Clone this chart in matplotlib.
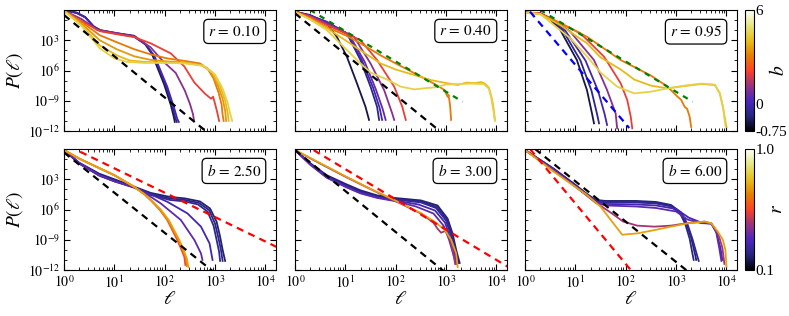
import numpy as np
import matplotlib
matplotlib.use('Agg')
import matplotlib.pyplot as plt
from matplotlib import colors, ticker

plt.rcParams['font.family'] = ['Liberation Serif', 'DejaVu Serif']
plt.rcParams['mathtext.fontset'] = 'stix'
plt.rcParams['axes.linewidth'] = 0.8

# ---------------- data (log10 ell, log10 P) ----------------
# Top row: r fixed, colour = b
top_r = [0.10, 0.40, 0.95]

p1_b = [-0.5, -0.25, 0.0, 1.0, 2.0, 3.0, 3.5, 4.0, 4.5]
p1_x = [
    [0, 0.25, 0.42, 0.58, 0.72, 1.05, 1.39, 1.6, 1.75, 1.99, 2.12, 2.18, 2.2],
    [0, 0.25, 0.42, 0.6, 0.74, 1.05, 1.39, 1.62, 1.78, 2.02, 2.15, 2.21, 2.24],
    [0, 0.25, 0.43, 0.62, 0.76, 1.05, 1.39, 1.64, 1.8, 2.05, 2.18, 2.25, 2.28],
    [0, 0.35, 0.65, 1.0, 1.39, 1.72, 1.95, 2.22, 2.4, 2.5, 2.56, 2.58],
    [0, 0.35, 0.71, 1.05, 1.4, 1.72, 2.12, 2.39, 2.59, 2.8, 2.92, 2.96, 3.0, 3.05, 3.08],
    [0, 0.35, 0.71, 1.05, 1.4, 1.72, 2.05, 2.4, 2.7, 2.85, 2.97, 3.07, 3.13, 3.15, 3.17],
    [0, 0.35, 0.71, 1.05, 1.4, 1.72, 2.05, 2.4, 2.72, 2.9, 3.05, 3.15, 3.2, 3.22],
    [0, 0.35, 0.71, 1.05, 1.3, 1.6, 2.05, 2.4, 2.75, 2.95, 3.1, 3.2, 3.25, 3.27],
    [0, 0.35, 0.71, 1.0, 1.25, 1.6, 2.05, 2.4, 2.78, 3.0, 3.15, 3.25, 3.3, 3.34],
]
p1_y = [
    [-0.02, -0.26, -0.7, -1.6, -2.0, -2.3, -2.55, -3.3, -4.4, -7.4, -9.4, -10.6, -11.1],
    [-0.02, -0.28, -0.72, -1.7, -2.05, -2.33, -2.6, -3.4, -4.5, -7.5, -9.5, -10.7, -11.1],
    [-0.03, -0.3, -0.75, -1.8, -2.1, -2.36, -2.65, -3.5, -4.6, -7.6, -9.6, -10.8, -11.1],
    [-0.06, -0.9, -1.95, -2.25, -2.6, -3.7, -5.0, -6.25, -8.0, -9.3, -10.3, -10.9],
    [-0.08, -1.1, -2.1, -2.4, -2.7, -3.3, -4.3, -5.6, -7.2, -8.3, -8.8, -8.6, -9.3, -10.3, -11.0],
    [-0.08, -1.2, -2.5, -3.2, -3.9, -4.4, -4.8, -5.05, -5.3, -5.8, -6.8, -8.2, -9.4, -10.4, -11.0],
    [-0.08, -1.35, -3.0, -3.9, -4.6, -4.95, -5.1, -5.2, -5.45, -6.0, -7.4, -8.8, -10.0, -11.0],
    [-0.08, -1.5, -3.5, -4.5, -5.0, -5.15, -5.2, -5.25, -5.5, -6.2, -7.6, -9.0, -10.2, -11.0],
    [-0.08, -1.6, -3.8, -4.8, -5.15, -5.25, -5.25, -5.3, -5.55, -6.4, -7.8, -9.2, -10.3, -11.0],
]

p2_b = [-0.5, -0.25, 0.0, 0.5, 1.0, 2.0, 3.0, 4.0, 4.5]
p2_x = [
    [0, 0.3, 0.63, 0.83, 1.03, 1.23, 1.4, 1.47],
    [0, 0.3, 0.63, 1.03, 1.3, 1.5, 1.63, 1.67],
    [0, 0.3, 0.63, 1.05, 1.33, 1.55, 1.68, 1.73],
    [0, 0.3, 0.63, 1.08, 1.38, 1.6, 1.74, 1.8],
    [0, 0.3, 0.63, 1.17, 1.5, 1.77, 1.93, 1.97],
    [0, 0.3, 0.63, 1.3, 1.63, 1.97, 2.13, 2.2],
    [0, 0.3, 0.63, 1.0, 1.3, 1.7, 2.0, 2.5, 2.83, 2.97, 3.03, 3.05, 3.08, 3.1],
    [0, 0.3, 0.63, 1.0, 1.3, 1.7, 2.0, 2.37, 2.7, 3.03, 3.23, 3.4, 3.57, 3.7, 3.77, 3.85, 3.9, 3.93, 3.95, 3.97],
    [0, 0.3, 0.63, 1.03, 1.3, 1.5, 1.83, 2.1, 2.37, 2.6, 2.77, 3.0, 3.2, 3.5, 3.75, 3.85, 3.9, 3.95, 3.97],
]
p2_y = [
    [-0.17, -0.5, -1.32, -2.65, -4.63, -7.27, -9.6, -10.9],
    [-0.17, -0.55, -1.16, -2.31, -4.96, -7.6, -9.6, -10.9],
    [-0.17, -0.57, -1.2, -2.4, -5.0, -7.7, -9.7, -10.9],
    [-0.17, -0.6, -1.25, -2.5, -5.1, -7.8, -9.8, -10.9],
    [-0.17, -0.62, -1.32, -2.65, -5.3, -7.94, -10.25, -10.9],
    [-0.17, -0.65, -1.49, -2.98, -4.96, -7.6, -9.59, -10.9],
    [-0.17, -0.8, -1.7, -2.5, -3.3, -4.5, -5.3, -6.6, -7.5, -7.95, -8.6, -8.4, -9.5, -10.9],
    [-0.17, -0.9, -1.8, -3.0, -4.0, -5.3, -5.9, -6.45, -6.95, -7.27, -7.44, -7.2, -7.25, -7.15, -7.3, -7.7, -8.6, -9.3, -10.0, -10.9],
    [-0.17, -0.95, -1.98, -3.97, -5.3, -6.2, -6.9, -7.6, -7.87, -7.75, -7.67, -7.4, -7.35, -7.3, -7.35, -7.8, -8.8, -10.3, -11.0],
]

p3_b = [-0.5, -0.25, 0.0, 1.0, 2.0, 3.0, 4.0, 4.5]
p3_x = [
    [0, 0.3, 0.5, 0.7, 1.03, 1.23, 1.33, 1.37],
    [0, 0.3, 0.52, 0.75, 1.1, 1.32, 1.43, 1.47],
    [0, 0.3, 0.55, 0.8, 1.2, 1.45, 1.58, 1.63],
    [0, 0.3, 0.6, 0.9, 1.37, 1.63, 1.8, 1.83],
    [0, 0.3, 0.7, 1.1, 1.57, 1.9, 2.03, 2.1, 2.13],
    [0, 0.3, 0.7, 1.23, 1.9, 2.5, 2.83, 3.03, 3.1, 3.17, 3.22, 3.27, 3.3],
    [0, 0.3, 0.7, 1.23, 1.5, 1.9, 2.17, 2.5, 2.83, 3.17, 3.5, 3.77, 3.87, 3.93, 4.0],
    [0, 0.3, 0.6, 0.9, 1.23, 1.5, 1.83, 2.17, 2.5, 2.83, 3.17, 3.5, 3.77, 3.87, 3.93, 3.98],
]
p3_y = [
    [-0.26, -0.33, -0.9, -1.98, -4.96, -7.94, -10.25, -11.24],
    [-0.26, -0.33, -0.9, -2.0, -5.0, -8.0, -10.3, -11.24],
    [-0.26, -0.33, -0.92, -2.05, -5.0, -8.0, -10.3, -11.4],
    [-0.26, -0.33, -1.1, -2.15, -4.96, -7.94, -10.25, -11.74],
    [-0.26, -0.33, -1.3, -2.31, -4.63, -7.27, -8.93, -10.58, -11.74],
    [-0.26, -0.38, -1.3, -2.65, -4.96, -6.5, -7.6, -8.6, -8.9, -9.6, -9.8, -10.6, -11.6],
    [-0.26, -0.4, -1.5, -3.3, -4.7, -5.9, -6.9, -7.5, -7.77, -7.54, -7.34, -7.44, -8.27, -9.6, -11.6],
    [-0.26, -0.4, -1.6, -2.8, -4.6, -6.2, -7.6, -8.27, -8.1, -7.77, -7.5, -7.3, -7.4, -8.3, -9.6, -11.5],
]

# Bottom row: b fixed, colour = r
bot_b = [2.50, 3.00, 6.00]

p4_r = [0.2, 0.22, 0.25, 0.3, 0.35, 0.55, 0.65, 0.72]
p4_x = [
    [0, 0.3, 0.7, 1.0, 1.4, 1.72, 2.1, 2.4, 2.7, 2.9, 3.03, 3.1, 3.15, 3.2],
    [0, 0.3, 0.7, 1.0, 1.4, 1.72, 2.1, 2.4, 2.68, 2.88, 3.0, 3.07, 3.12, 3.15],
    [0, 0.3, 0.7, 1.0, 1.4, 1.72, 2.1, 2.4, 2.66, 2.85, 2.97, 3.03, 3.08, 3.1],
    [0, 0.3, 0.7, 1.0, 1.39, 1.72, 2.05, 2.45, 2.72, 2.89, 2.95],
    [0, 0.3, 0.7, 1.0, 1.39, 1.65, 1.92, 2.32, 2.59, 2.72, 2.75],
    [0, 0.3, 0.71, 1.0, 1.39, 1.6, 1.72, 1.9, 2.05, 2.25, 2.35, 2.39, 2.41],
    [0, 0.3, 0.71, 1.0, 1.39, 1.6, 1.72, 1.9, 2.06, 2.27, 2.37, 2.42, 2.44],
    [0, 0.3, 0.71, 1.0, 1.39, 1.6, 1.73, 1.92, 2.08, 2.29, 2.39, 2.44, 2.47],
]
p4_y = [
    [-0.1, -1.35, -2.45, -3.0, -3.75, -4.35, -4.75, -4.9, -5.2, -5.9, -7.2, -8.7, -10.0, -11.1],
    [-0.1, -1.4, -2.55, -3.1, -3.8, -4.45, -4.9, -5.05, -5.35, -6.05, -7.4, -8.9, -10.1, -11.1],
    [-0.1, -1.45, -2.65, -3.2, -3.85, -4.55, -5.05, -5.2, -5.5, -6.2, -7.6, -9.0, -10.2, -11.1],
    [-0.1, -1.4, -2.6, -3.2, -3.78, -4.5, -5.23, -6.38, -7.7, -9.36, -11.0],
    [-0.1, -1.4, -2.6, -3.2, -3.78, -4.5, -5.39, -7.04, -9.03, -10.35, -11.0],
    [-0.1, -0.95, -1.92, -2.6, -3.74, -4.5, -5.06, -6.0, -7.04, -9.03, -10.2, -10.7, -11.5],
    [-0.1, -0.95, -1.92, -2.6, -3.74, -4.5, -5.06, -6.0, -7.04, -9.03, -10.2, -10.8, -11.6],
    [-0.1, -0.95, -1.92, -2.6, -3.74, -4.5, -5.06, -6.0, -7.04, -9.03, -10.2, -10.9, -11.7],
]

p5_r = [0.2, 0.22, 0.25, 0.3, 0.35, 0.45, 0.72]
p5_x = [
    [0, 0.3, 0.63, 1.02, 1.3, 1.63, 1.97, 2.5, 2.83, 3.03, 3.13, 3.2, 3.27],
    [0, 0.3, 0.63, 1.02, 1.3, 1.63, 1.97, 2.5, 2.82, 3.02, 3.12, 3.19, 3.25],
    [0, 0.3, 0.63, 1.02, 1.3, 1.63, 1.97, 2.5, 2.8, 3.0, 3.1, 3.18, 3.24],
    [0, 0.3, 0.63, 1.02, 1.3, 1.63, 1.97, 2.45, 2.78, 2.98, 3.08, 3.16, 3.22],
    [0, 0.3, 0.63, 1.02, 1.3, 1.63, 1.97, 2.4, 2.75, 2.95, 3.06, 3.14, 3.2],
    [0, 0.5, 1.02, 1.5, 2.03, 2.5, 2.75, 2.83, 2.9, 3.0, 3.1, 3.15, 3.18],
    [0, 0.5, 1.02, 1.5, 2.03, 2.5, 2.77, 2.97, 3.1, 3.2, 3.23],
]
p5_y = [
    [-0.1, -1.4, -2.6, -3.5, -4.1, -4.6, -4.85, -5.1, -5.6, -6.9, -8.4, -10.0, -11.3],
    [-0.1, -1.45, -2.7, -3.6, -4.2, -4.7, -4.95, -5.2, -5.75, -7.0, -8.5, -10.1, -11.3],
    [-0.1, -1.5, -2.75, -3.7, -4.3, -4.75, -5.0, -5.3, -5.85, -7.1, -8.6, -10.2, -11.3],
    [-0.1, -1.5, -2.8, -3.75, -4.35, -4.8, -5.1, -5.5, -6.1, -7.3, -8.8, -10.3, -11.4],
    [-0.1, -1.55, -2.85, -3.8, -4.4, -4.85, -5.15, -5.7, -6.4, -7.6, -9.0, -10.4, -11.4],
    [-0.1, -1.45, -2.8, -3.98, -5.25, -6.4, -7.3, -7.9, -8.3, -8.1, -9.3, -10.5, -11.4],
    [-0.1, -1.4, -2.75, -3.95, -5.2, -6.35, -7.2, -8.0, -9.0, -10.35, -11.7],
]

p6_r = [0.2, 0.22, 0.25, 0.3, 0.35, 0.45, 0.72]
p6_x = [
    [0, 0.57, 1.0, 1.2, 1.4, 1.6, 2.2, 2.6, 2.9, 3.1, 3.2, 3.3, 3.38, 3.4],
    [0, 0.57, 1.0, 1.2, 1.4, 1.6, 2.2, 2.6, 2.88, 3.08, 3.18, 3.27, 3.33, 3.35],
    [0, 0.57, 1.0, 1.2, 1.4, 1.6, 2.2, 2.6, 2.92, 3.12, 3.23, 3.33, 3.42, 3.45],
    [0, 0.57, 1.0, 1.2, 1.4, 1.6, 2.2, 2.6, 3.0, 3.25, 3.5, 3.7, 3.8, 3.88, 3.92],
    [0, 0.57, 1.0, 1.2, 1.4, 1.6, 2.2, 2.6, 3.0, 3.23, 3.5, 3.7, 3.8, 3.86, 3.9],
    [0, 0.57, 1.0, 1.2, 1.4, 1.7, 1.95, 2.23, 2.57, 2.9, 3.23, 3.57, 3.7, 3.83, 3.92, 3.96],
    [0, 0.57, 1.23, 1.5, 1.93, 2.23, 2.57, 2.9, 3.23, 3.57, 3.7, 3.83, 3.93, 3.98, 4.0],
]
p6_y = [
    [-0.1, -1.95, -3.55, -4.35, -5.05, -5.15, -5.15, -5.25, -5.55, -6.3, -7.3, -8.8, -10.5, -11.0],
    [-0.1, -2.0, -3.6, -4.4, -5.1, -5.25, -5.25, -5.35, -5.65, -6.4, -7.4, -8.9, -10.5, -11.0],
    [-0.1, -2.0, -3.6, -4.4, -5.12, -5.3, -5.3, -5.4, -5.7, -6.5, -7.5, -9.0, -10.6, -11.1],
    [-0.1, -2.05, -3.65, -4.45, -5.2, -5.45, -5.5, -5.6, -5.95, -6.8, -7.3, -7.4, -8.2, -9.8, -11.0],
    [-0.1, -2.1, -3.7, -4.5, -5.3, -5.6, -5.7, -5.85, -6.2, -7.0, -7.35, -7.4, -8.3, -9.9, -11.1],
    [-0.1, -2.15, -3.75, -4.5, -5.3, -6.3, -7.2, -7.6, -7.7, -7.6, -7.35, -7.2, -7.4, -8.3, -9.8, -11.4],
    [-0.1, -2.25, -4.56, -5.72, -8.5, -8.37, -8.04, -7.7, -7.37, -7.2, -7.37, -8.2, -9.03, -10.0, -11.67],
]

# reference power-law guides: [x0, x1], [y0, y1] in log10 units
blk_x = [[0, 2.85], [0, 2.85], None, [0, 2.95], [0, 2.95], [0.2, 3.25]]
blk_y = [[-0.5, -12.15], [-0.33, -11.9], None, [-0.35, -12.1], [-0.1, -12.1], [0.0, -12.2]]
grn_x = [None, [0.3, 3.33], [0.3, 3.33]]
grn_y = [None, [0.0, -9.1], [0.0, -9.1]]
blu_x = [0.1, 2.07]
blu_y = [-0.17, -11.7]
red_x = [[0.32, 4.3], [0.37, 4.3], [0.1, 2.1]]
red_y = [[-0.27, -9.9], [-0.11, -11.9], [0.0, -12.0]]

b_ticks = [-0.75, 0, 6]
b_ticklabels = ['-0.75', '0', '6']
r_ticks = [0.1, 1.0]
r_ticklabels = ['0.1', '1.0']
ytick_vals = [1e-3, 1e-6, 1e-9, 1e-12]
ytick_labels = [r'$10^{3}$', r'$10^{6}$', r'$10^{-9}$', r'$10^{-12}$']
xtick_vals = [1, 10, 100, 1000, 10000]
xtick_labels = [r'$10^{0}$', r'$10^{1}$', r'$10^{2}$', r'$10^{3}$', r'$10^{4}$']

# ---------------- figure ----------------
cmap = plt.get_cmap('CMRmap')
bnorm = colors.FuncNorm((lambda v: np.interp(v, [-0.75, 0, 6], [0, 0.22, 1]),
                         lambda u: np.interp(u, [0, 0.22, 1], [-0.75, 0, 6])),
                        vmin=-0.75, vmax=6)
rnorm = colors.Normalize(0.1, 1.0)

W, H = 789, 316
fig = plt.figure(figsize=(W / 100, H / 100), dpi=100)
lefts = [64, 295, 525]
tops = [10, 149]
aw, ah = 212, 121
axes = []
for row in range(2):
    for col in range(3):
        ax = fig.add_axes([lefts[col] / W, 1 - (tops[row] + ah) / H, aw / W, ah / H])
        axes.append(ax)

top_data = [(p1_b, p1_x, p1_y), (p2_b, p2_x, p2_y), (p3_b, p3_x, p3_y)]
bot_data = [(p4_r, p4_x, p4_y), (p5_r, p5_x, p5_y), (p6_r, p6_x, p6_y)]
dash = (0, (3.2, 2.4))

for i, ax in enumerate(axes):
    ax.set_xscale('log')
    ax.set_yscale('log')
    if i < 3:
        vals, xs, ys = top_data[i]
        for v, x, y in zip(vals, xs, ys):
            ax.plot(10 ** np.array(x), 10 ** np.array(y), color=cmap(bnorm(v)), lw=1.3)
        label = r'$r\,=\,%.2f$' % top_r[i]
        if grn_x[i] is not None:
            ax.plot(10 ** np.array(grn_x[i]), 10 ** np.array(grn_y[i]), color='green',
                    ls=(0, (2.5, 2.5)), lw=1.6)
        if i == 2:
            ax.plot(10 ** np.array(blu_x), 10 ** np.array(blu_y), color='blue', ls=dash, lw=1.6)
    else:
        vals, xs, ys = bot_data[i - 3]
        for v, x, y in zip(vals, xs, ys):
            ax.plot(10 ** np.array(x), 10 ** np.array(y), color=cmap(rnorm(v)), lw=1.3)
        label = r'$b\,=\,%.2f$' % bot_b[i - 3]
        ax.plot(10 ** np.array(red_x[i - 3]), 10 ** np.array(red_y[i - 3]), color='red',
                ls=dash, lw=1.6)
    if blk_x[i] is not None:
        ax.plot(10 ** np.array(blk_x[i]), 10 ** np.array(blk_y[i]), color='black', ls=dash, lw=1.6)

    ax.set_xlim(1, 10 ** 4.21)
    ax.set_ylim(1e-12, 1.0)
    ax.xaxis.set_major_locator(ticker.FixedLocator(xtick_vals))
    ax.xaxis.set_minor_locator(ticker.LogLocator(base=10, subs=np.arange(2, 10), numticks=20))
    ax.yaxis.set_major_locator(ticker.FixedLocator(ytick_vals))
    ax.yaxis.set_minor_locator(ticker.FixedLocator([10.0 ** k for k in range(-12, 1)]))
    ax.xaxis.set_minor_formatter(ticker.NullFormatter())
    ax.yaxis.set_minor_formatter(ticker.NullFormatter())
    ax.tick_params(which='both', direction='in', top=True, right=True)
    ax.tick_params(which='major', length=4, width=0.8, labelsize=10, pad=3)
    ax.tick_params(which='minor', length=2, width=0.6)
    if i >= 3:
        ax.set_xticklabels(xtick_labels)
        ax.set_xlabel(r'$\ell$', fontsize=14, labelpad=0)
    else:
        ax.set_xticklabels([])
    if i % 3 == 0:
        ax.set_yticklabels(ytick_labels)
        ax.set_ylabel(r'$P(\ell)$', fontsize=14, labelpad=2)
    else:
        ax.set_yticklabels([])
    ax.text(0.93, 0.885, label, transform=ax.transAxes, ha='right', va='top', fontsize=11,
            bbox=dict(boxstyle='round,pad=0.3', fc='white', ec='black', lw=0.9))

# colorbars
cb_left, cb_w = 745, 9
cax1 = fig.add_axes([cb_left / W, 1 - (10 + ah) / H, cb_w / W, ah / H])
cax2 = fig.add_axes([cb_left / W, 1 - (149 + ah) / H, cb_w / W, ah / H])
sm1 = plt.cm.ScalarMappable(norm=bnorm, cmap=cmap)
sm2 = plt.cm.ScalarMappable(norm=rnorm, cmap=cmap)
cb1 = fig.colorbar(sm1, cax=cax1)
cb2 = fig.colorbar(sm2, cax=cax2)
cb1.set_ticks(b_ticks)
cb1.set_ticklabels(b_ticklabels)
cb2.set_ticks(r_ticks)
cb2.set_ticklabels(r_ticklabels)
for cb in (cb1, cb2):
    cb.ax.tick_params(labelsize=11, length=0, pad=1)
    cb.ax.minorticks_off()
    cb.outline.set_linewidth(0.8)
fig.text(778 / W, 1 - 70 / H, r'$b$', rotation=90, ha='center', va='center', fontsize=14)
fig.text(778 / W, 1 - 209 / H, r'$r$', rotation=90, ha='center', va='center', fontsize=14)

fig.savefig('out.png', dpi=100)
